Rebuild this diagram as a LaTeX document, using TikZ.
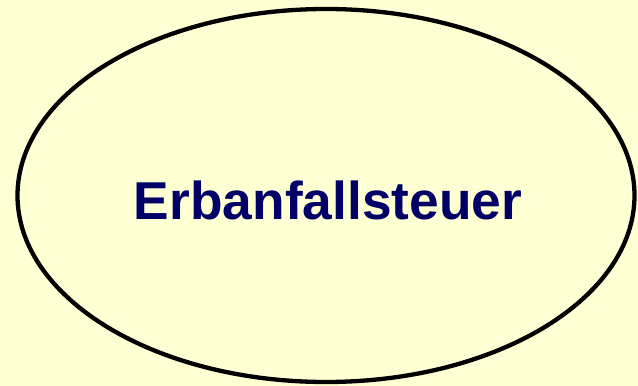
\documentclass[tikz,border=0pt]{standalone}
\usepackage{fontspec}
\setmainfont{Liberation Sans}
\usetikzlibrary{shapes.geometric}
\definecolor{paleyellow}{HTML}{FFFFD4}
\definecolor{taxnavy}{HTML}{000066}
\tikzset{
    taxellipse/.style={ellipse, draw=black, line width=4.3pt, minimum width=617pt, minimum height=373pt, inner sep=0pt},
    taxlabel/.style={text=taxnavy, font=\fontsize{53.3}{58}\selectfont\bfseries, inner sep=0pt, anchor=base}
}
\begin{document}
\begin{tikzpicture}[x=1pt,y=1pt]
		% background
		\fill[paleyellow] (0,0) rectangle (638,386);
		\useasboundingbox (0,0) rectangle (638,386);
		% ellipse
		\node[taxellipse] (tax) at (326,190.5) {};
		\node[taxlabel] (taxname) at (328,166) {Erbanfallsteuer};
	\end{tikzpicture}
\end{document}
